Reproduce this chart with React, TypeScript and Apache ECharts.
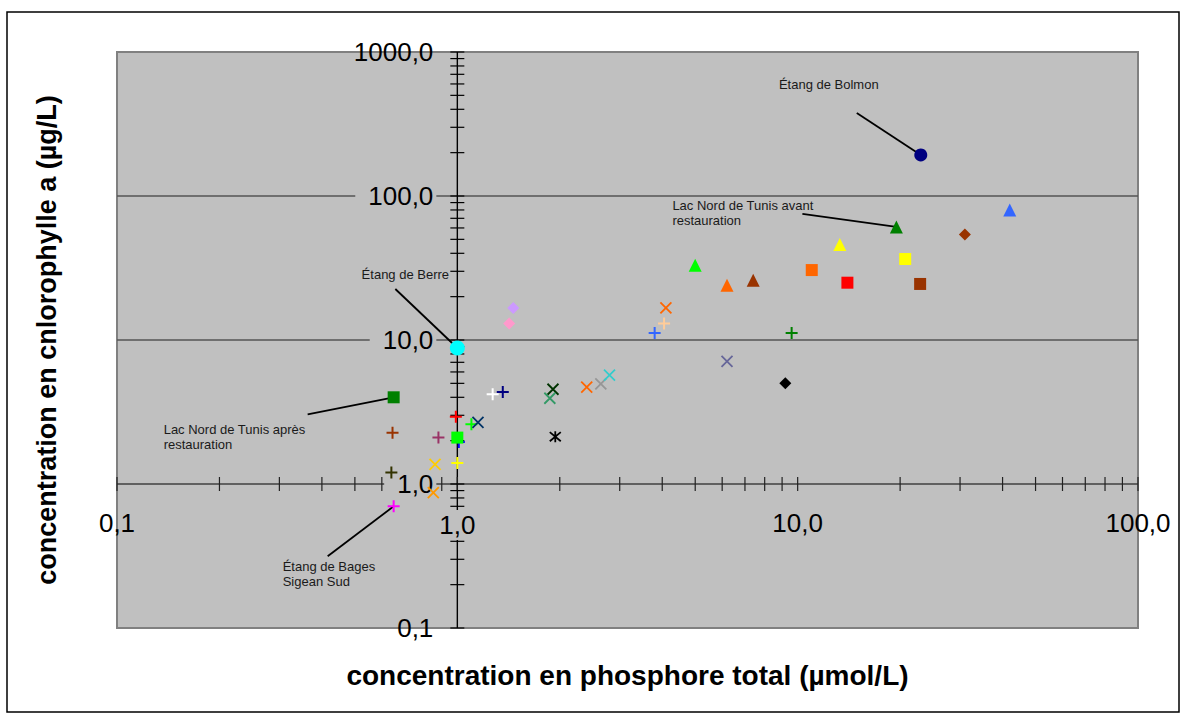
import React, { useEffect, useRef } from "react";
import * as echarts from "echarts";

// Total phosphorus (µmol/L) for each lagoon sample
const phosphoreTotal = [
  23, 19.5, 42, 31, 13.3, 20.7, 11, 14, 22.9, 5.0, 6.2, 7.4, 4.1, 4.05, 3.8, 9.6,
  6.2, 9.2, 1.46, 1.42, 1.0, 0.65, 1.27, 1.36, 1.91, 1.87, 2.4, 2.64, 2.8, 1.94,
  0.99, 1.1, 1.15, 1.01, 1.0, 0.645, 0.88, 0.86, 1.0, 0.64, 0.85, 0.65,
];
// Chlorophyll a (µg/L) for the same samples
const chlorophylleA = [
  193, 61, 80, 54, 46, 36.5, 30.6, 25, 24.5, 33, 24, 26, 16.7, 13, 11.2, 11.2,
  7.1, 5.0, 16.7, 13, 8.8, 4.0, 4.2, 4.35, 4.55, 3.94, 4.7, 4.95, 5.7, 2.13,
  2.93, 2.6, 2.68, 1.96, 2.1, 2.27, 2.1, 1.37, 1.4, 1.2, 0.87, 0.7,
];

// Named sites (index into the arrays above) and their captions
const annotatedSites = [0, 1, 20, 21, 41];
const annotationTexts = [
  "Étang de Bolmon",
  "Lac Nord de Tunis avant\nrestauration",
  "Étang de Berre",
  "Lac Nord de Tunis après\nrestauration",
  "Étang de Bages\nSigean Sud",
];

// Axis tick values
const xMajorTicks = [0.1, 1, 10, 100];
const yMajorTicks = [0.1, 1, 10, 100, 1000];
const minorSteps = [2, 3, 4, 5, 6, 7, 8, 9];
const gridLineValues = [10, 100];

// ---- styling ----
const FONT = "'Liberation Sans', Arial, sans-serif";

const PLUS = "path://M0,6H12M6,0V12";
const CROSS = "path://M1,1L11,11M11,1L1,11";
const STAR = "path://M1,1L11,11M11,1L1,11M6,0V12";

type Marker = [string, string, number];
// [symbol, colour, size] per sample
const markers: Marker[] = [
  ["circle", "#000080", 13],
  ["triangle", "#008000", 13],
  ["triangle", "#3366FF", 13],
  ["diamond", "#993300", 12],
  ["triangle", "#FFFF00", 13],
  ["rect", "#FFFF00", 12],
  ["rect", "#FF6600", 12],
  ["rect", "#FF0000", 12],
  ["rect", "#993300", 12],
  ["triangle", "#00FF00", 13],
  ["triangle", "#FF6600", 13],
  ["triangle", "#993300", 13],
  [CROSS, "#FF6600", 11],
  [PLUS, "#FFCC99", 12],
  [PLUS, "#3366FF", 12],
  [PLUS, "#008000", 12],
  [CROSS, "#666699", 11],
  ["diamond", "#000000", 12],
  ["diamond", "#CC99FF", 12],
  ["diamond", "#FF99CC", 12],
  ["circle", "#00FFFF", 15],
  ["rect", "#008000", 12],
  [PLUS, "#FFFFFF", 12],
  [PLUS, "#000080", 12],
  [CROSS, "#003300", 11],
  [CROSS, "#339966", 11],
  [CROSS, "#FF6600", 11],
  [CROSS, "#969696", 11],
  [CROSS, "#33CCCC", 11],
  [STAR, "#000000", 11],
  [PLUS, "#FF0000", 12],
  [PLUS, "#00FF00", 12],
  [CROSS, "#003366", 11],
  [PLUS, "#0000FF", 12],
  ["rect", "#00FF00", 12],
  [PLUS, "#993300", 12],
  [PLUS, "#993366", 12],
  [CROSS, "#FFCC00", 11],
  [PLUS, "#FFFF00", 12],
  [PLUS, "#333300", 12],
  [CROSS, "#FF9900", 11],
  [PLUS, "#FF00FF", 12],
];

// Caption placement relative to the marked point: leader start, text anchor, alignment
const annotationLayout: { lead: [number, number]; text: [number, number]; align: string }[] = [
  { lead: [-64, -42], text: [-92, -70], align: "center" },
  { lead: [-94, -13], text: [-224, -14], align: "left" },
  { lead: [-62, -59], text: [-52, -73], align: "center" },
  { lead: [-86, 17], text: [-230, 40], align: "left" },
  { lead: [-66, 50], text: [-111, 68], align: "left" },
];

const GRID = { left: 117, top: 52, width: 1021, height: 576 };

function fmt(v: number) {
  return v.toFixed(1).replace(".", ",");
}

function withMinors(majors: number[]) {
  const out: number[] = [];
  majors.forEach((m, i) => {
    out.push(m);
    if (i < majors.length - 1) minorSteps.forEach((s) => out.push(m * s));
  });
  return out;
}

function buildOption() {
  const xTicks = withMinors(xMajorTicks);
  const yTicks = withMinors(yMajorTicks);
  const xMin = xMajorTicks[0];
  const xMax = xMajorTicks[xMajorTicks.length - 1];
  const yMin = yMajorTicks[0];
  const yMax = yMajorTicks[yMajorTicks.length - 1];

  const scatterData = phosphoreTotal.map((x, i) => {
    const [sym, color, size] = markers[i];
    const stroked = sym.startsWith("path://");
    return {
      value: [x, chlorophylleA[i]],
      symbol: sym,
      symbolSize: size,
      itemStyle: stroked
        ? { color: "rgba(0,0,0,0)", borderColor: color, borderWidth: sym === PLUS ? 2 : 1.8, opacity: 1 }
        : { color, borderWidth: 0, opacity: 1 },
    };
  });

  const annotationData = annotatedSites.map((idx, k) => [phosphoreTotal[idx], chlorophylleA[idx], k]);

  return {
    animation: false,
    backgroundColor: "#FFFFFF",
    textStyle: { fontFamily: FONT },
    grid: {
      ...GRID,
      show: true,
      backgroundColor: "#C0C0C0",
      borderColor: "#808080",
      borderWidth: 2,
    },
    graphic: [
      {
        type: "rect",
        shape: { x: 7, y: 12, width: 1172, height: 700 },
        style: { fill: "none", stroke: "#000000", lineWidth: 1.5 },
        silent: true,
        z: -10,
      },
    ],
    xAxis: {
      type: "log",
      logBase: 10,
      min: xMin,
      max: xMax,
      position: "bottom",
      offset: -GRID.height / 4,
      z: 2,
      axisLine: { show: false },
      axisTick: { show: false },
      minorTick: { show: false },
      splitLine: { show: false },
      name: "concentration en phosphore total (µmol/L)",
      nameLocation: "middle",
      nameGap: 177,
      nameTextStyle: { fontFamily: FONT, fontSize: 28, fontWeight: "bold", color: "#000" },
      axisLabel: {
        fontFamily: FONT,
        fontSize: 26,
        color: "#000",
        margin: 26,
        showMinLabel: true,
        showMaxLabel: true,
        formatter: (v: number) => (Math.abs(v - 1) < 1e-9 ? `{g|${fmt(v)}}` : fmt(v)),
        rich: {
          g: { backgroundColor: "#C0C0C0", padding: [2, 4, 2, 4], fontSize: 26, fontFamily: FONT, color: "#000" },
        },
      },
    },
    yAxis: {
      type: "log",
      logBase: 10,
      min: yMin,
      max: yMax,
      position: "left",
      offset: -GRID.width / 3,
      z: 2,
      axisLine: { show: false },
      axisTick: { show: false },
      minorTick: { show: false },
      splitLine: { show: false },
      name: "concentration en cnlorophylle a (µg/L)",
      nameLocation: "middle",
      nameRotate: 90,
      nameGap: 397,
      nameTextStyle: { fontFamily: FONT, fontSize: 27, fontWeight: "bold", color: "#000" },
      axisLabel: {
        fontFamily: FONT,
        fontSize: 26,
        color: "#000",
        margin: 21,
        showMinLabel: true,
        showMaxLabel: true,
        formatter: (v: number) =>
          v > yMin * 1.01 && v < yMax * 0.99 ? `{g|${fmt(v)}}` : `{p|${fmt(v)}}`,
        rich: {
          g: { backgroundColor: "#C0C0C0", padding: [2, 3, 2, 13], fontSize: 26, fontFamily: FONT, color: "#000" },
          p: { padding: [2, 3, 2, 13], fontSize: 26, fontFamily: FONT, color: "#000" },
        },
      },
    },
    series: [
      {
        // gridlines, crossing axes and their ticks
        type: "custom",
        z: 1,
        silent: true,
        clip: false,
        data: [[1, 1]],
        renderItem: (_params: any, api: any) => {
          const children: any[] = [];
          gridLineValues.forEach((g) => {
            const a = api.coord([xMin, g]);
            const b = api.coord([xMax, g]);
            children.push({
              type: "line",
              shape: { x1: a[0], y1: a[1], x2: b[0], y2: b[1] },
              style: { stroke: "#555555", lineWidth: 1.6 },
            });
          });
          const xa = api.coord([xMin, 1]);
          const xb = api.coord([xMax, 1]);
          children.push({
            type: "line",
            shape: { x1: xa[0], y1: xa[1], x2: xb[0], y2: xb[1] },
            style: { stroke: "#404040", lineWidth: 1.6 },
          });
          const ya = api.coord([1, yMin]);
          const yb = api.coord([1, yMax]);
          children.push({
            type: "line",
            shape: { x1: ya[0], y1: ya[1], x2: yb[0], y2: yb[1] },
            style: { stroke: "#000000", lineWidth: 1.4 },
          });
          xTicks.forEach((v) => {
            const c = api.coord([v, 1]);
            children.push({
              type: "line",
              shape: { x1: c[0], y1: c[1] - 7, x2: c[0], y2: c[1] + 7 },
              style: { stroke: "#222222", lineWidth: 1.2 },
            });
          });
          yTicks.forEach((v) => {
            const c = api.coord([1, v]);
            children.push({
              type: "line",
              shape: { x1: c[0] - 7, y1: c[1], x2: c[0] + 7, y2: c[1] },
              style: { stroke: "#000000", lineWidth: 1.2 },
            });
          });
          return { type: "group", children };
        },
      },
      {
        // site captions with leader lines
        type: "custom",
        z: 3,
        silent: true,
        clip: false,
        data: annotationData,
        renderItem: (params: any, api: any) => {
          const k = api.value(2);
          const p = api.coord([api.value(0), api.value(1)]);
          const lay = annotationLayout[k];
          return {
            type: "group",
            children: [
              {
                type: "line",
                shape: { x1: p[0] + lay.lead[0], y1: p[1] + lay.lead[1], x2: p[0], y2: p[1] },
                style: { stroke: "#000000", lineWidth: 1.8 },
              },
              {
                type: "text",
                x: p[0] + lay.text[0],
                y: p[1] + lay.text[1],
                style: {
                  text: annotationTexts[k],
                  fill: "#1a1a1a",
                  fontFamily: FONT,
                  fontSize: 13,
                  lineHeight: 15,
                  align: lay.align,
                  verticalAlign: "middle",
                },
              },
            ],
          };
        },
      },
      {
        type: "scatter",
        z: 4,
        data: scatterData,
      },
    ],
  };
}

export default function App() {
  const ref = useRef<HTMLDivElement>(null);
  useEffect(() => {
    if (!ref.current) return;
    const chart = echarts.init(ref.current, null, { renderer: "svg" });
    chart.setOption(buildOption() as any);
    return () => chart.dispose();
  }, []);
  return (
    <div
      ref={ref}
      style={{ position: "fixed", left: 0, top: 0, width: 1185, height: 715, background: "#fff" }}
    />
  );
}
